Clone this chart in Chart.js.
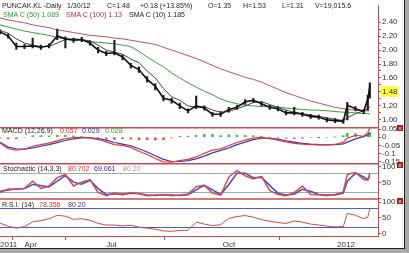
<!DOCTYPE html>
<html>
<head>
<meta charset="utf-8">
<script src="https://cdn.jsdelivr.net/npm/chart.js@4.4.1/dist/chart.umd.min.js"></script>
<style>
  html, body { margin: 0; padding: 0; background: #a9a9a9; }
  #frame { position: absolute; left: 0; top: 0; width: 404px; height: 248px; background: #fff;
           border-right: 1px solid #222; border-bottom: 1px solid #222; overflow: hidden;
           font-family: "Liberation Sans", Arial, sans-serif; font-size: 8px; color: #222; }
  #frame canvas { position: absolute; left: 0; top: 0; }
  .t { position: absolute; white-space: nowrap; line-height: 9px; transform: scaleX(0.88); transform-origin: 0 0; }
  .g { color: #2f9a2f; } .m { color: #a8304f; } .r { color: #e02828; } .b { color: #2a2aa0; } .s { color: #999; }
  .xb { position: absolute; left: 397px; width: 6px; height: 6px; background: #a81c1c; color: #fff;
        font-size: 6px; line-height: 6px; text-align: center; }
</style>
</head>
<body>
<div id="frame">
  <canvas id="chart" width="404" height="248"></canvas>

  <div class="t" style="left:2px;top:1px">PUNCAK.KL -Daily</div>
  <div class="t" style="left:67px;top:1px">1/30/12</div>
  <div class="t" style="left:107px;top:1px">C=1.48</div>
  <div class="t" style="left:140px;top:1px">+0.18 (+13.85%)</div>
  <div class="t" style="left:208px;top:1px">O=1.35</div>
  <div class="t" style="left:243px;top:1px">H=1.53</div>
  <div class="t" style="left:282px;top:1px">L=1.31</div>
  <div class="t" style="left:315px;top:1px">V=19,015.6</div>

  <div class="t g" style="left:3px;top:10px">SMA C (50) 1.089</div>
  <div class="t m" style="left:66px;top:10px">SMA C (100) 1.13</div>
  <div class="t" style="left:129px;top:10px">SMA C (10) 1.185</div>

  <div class="t" style="left:2px;top:126px">MACD (12,26,9)</div>
  <div class="t r" style="left:60px;top:126px">0.057</div>
  <div class="t b" style="left:82px;top:126px">0.029</div>
  <div class="t g" style="left:105px;top:126px">0.028</div>

  <div class="t" style="left:3px;top:164px">Stochastic (14,3,3)</div>
  <div class="t r" style="left:68px;top:164px">80.702</div>
  <div class="t b" style="left:94px;top:164px">69.061</div>
  <div class="t s" style="left:123px;top:164px">80 20</div>

  <div class="t" style="left:2px;top:200px">R.S.I. (14)</div>
  <div class="t r" style="left:39px;top:200px">78.356</div>
  <div class="t b" style="left:68px;top:200px">80 20</div>

  <div class="xb" style="top:125px">x</div>
  <div class="xb" style="top:162px">x</div>
  <div class="xb" style="top:198px">x</div>
</div>

<script>
// trading-day index of each sample
const days = [0,4,8,12,16,20,24,28,32,36,40,44,48,52,56,60,64,68,72,76,80,84,88,92,96,100,104,108,112,116,120,124,128,132,136,140,144,148,152,156,160,164,168,170,174,178,180,181];

const closes = [2.26,2.20,2.05,2.05,2.06,2.04,2.06,2.20,2.16,2.14,2.15,2.10,2.00,1.95,1.96,1.90,1.78,1.72,1.58,1.48,1.31,1.28,1.20,1.13,1.20,1.17,1.08,1.08,1.15,1.18,1.26,1.28,1.23,1.18,1.16,1.10,1.10,1.08,1.05,1.04,1.00,0.99,0.98,1.21,1.16,1.12,1.30,1.48];
const highs  = [2.29,2.23,2.10,2.08,2.17,2.07,2.09,2.30,2.19,2.17,2.18,2.13,2.04,1.98,2.14,1.93,1.81,1.76,1.62,1.52,1.35,1.31,1.24,1.16,1.34,1.20,1.11,1.12,1.18,1.21,1.29,1.31,1.26,1.21,1.19,1.13,1.18,1.11,1.08,1.07,1.03,1.02,1.01,1.25,1.19,1.15,1.35,1.53];
const lows   = [2.23,2.17,2.01,2.02,2.03,2.01,2.03,2.15,2.03,2.11,2.12,2.07,1.96,1.92,1.93,1.86,1.74,1.68,1.54,1.43,1.27,1.24,1.16,1.10,1.16,1.14,1.05,1.05,1.11,1.15,1.22,1.25,1.20,1.15,1.13,1.07,1.07,1.05,1.02,1.01,0.97,0.96,0.95,1.00,1.13,1.09,1.14,1.31];
const sma10  = [2.28,2.24,2.16,2.10,2.07,2.05,2.05,2.10,2.15,2.16,2.15,2.13,2.07,2.00,1.97,1.94,1.87,1.82,1.70,1.60,1.45,1.33,1.28,1.20,1.18,1.19,1.14,1.11,1.12,1.16,1.20,1.25,1.26,1.22,1.18,1.14,1.11,1.09,1.07,1.05,1.03,1.01,0.99,1.03,1.09,1.13,1.16,1.185];
const sma50  = [2.36,2.33,2.30,2.27,2.25,2.23,2.21,2.18,2.16,2.15,2.14,2.12,2.11,2.10,2.09,2.07,2.05,1.98,1.90,1.83,1.76,1.67,1.60,1.53,1.47,1.41,1.36,1.30,1.26,1.23,1.21,1.20,1.19,1.19,1.18,1.17,1.16,1.15,1.14,1.14,1.13,1.12,1.11,1.11,1.10,1.09,1.09,1.089];
const sma100 = [2.46,2.43,2.41,2.39,2.36,2.34,2.32,2.29,2.27,2.25,2.23,2.21,2.20,2.19,2.17,2.16,2.14,2.12,2.10,2.08,2.04,2.00,1.96,1.92,1.88,1.83,1.78,1.73,1.69,1.65,1.61,1.58,1.54,1.49,1.44,1.39,1.35,1.31,1.27,1.24,1.21,1.18,1.16,1.15,1.14,1.13,1.13,1.13];

const macdLine   = [-0.035,-0.07,-0.078,-0.072,-0.055,-0.045,-0.036,-0.022,-0.008,-0.002,0.0,-0.004,-0.014,-0.028,-0.045,-0.05,-0.062,-0.085,-0.105,-0.13,-0.15,-0.152,-0.142,-0.135,-0.12,-0.098,-0.078,-0.07,-0.05,-0.032,-0.018,-0.005,0.0,-0.008,-0.018,-0.028,-0.037,-0.042,-0.045,-0.046,-0.046,-0.044,-0.03,-0.006,0.012,0.006,0.03,0.057];
const macdSignal = [-0.03,-0.06,-0.07,-0.072,-0.065,-0.055,-0.045,-0.033,-0.02,-0.01,-0.004,-0.003,-0.008,-0.018,-0.032,-0.042,-0.052,-0.07,-0.09,-0.113,-0.135,-0.148,-0.148,-0.142,-0.132,-0.115,-0.095,-0.08,-0.065,-0.045,-0.03,-0.015,-0.006,-0.006,-0.012,-0.022,-0.03,-0.037,-0.042,-0.045,-0.046,-0.045,-0.04,-0.03,-0.01,0.005,0.015,0.029];
const macdHist   = [-0.005,-0.01,-0.008,0.0,0.01,0.01,0.009,0.011,0.012,0.008,0.004,-0.001,-0.006,-0.01,-0.013,-0.008,-0.01,-0.015,-0.015,-0.017,-0.015,-0.004,0.006,0.007,0.012,0.017,0.017,0.01,0.015,0.013,0.012,0.01,0.006,-0.002,-0.006,-0.006,-0.007,-0.005,-0.003,-0.001,0.0,0.001,0.01,0.024,0.022,0.001,0.015,0.028];

const stochK = [20,31,30,33,55,33,40,66,76,40,52,60,20,10,19,12,20,16,10,12,14,10,12,15,38,42,18,12,68,88,72,62,70,26,14,10,20,40,14,13,10,14,22,76,82,60,58,80.7];
const stochD = [24,28,31,32,45,42,37,55,72,52,46,58,32,14,15,15,17,17,12,11,13,12,11,13,28,42,28,14,45,80,80,66,67,42,18,12,15,30,24,14,12,12,18,55,80,68,60,69.1];
const rsi    = [33,23,17,22,37,41,47,58,55,45,47,42,32,27,27,24,26,20,17,14,8,7,10,10,36,30,25,28,48,54,57,52,44,39,35,32,40,36,30,27,23,21,22,64,58,47,52,78.4];

const priceTicks = [1.0,1.1,1.2,1.3,1.4,1.5,1.6,1.7,1.8,1.9,2.0,2.1,2.2,2.3,2.4];
const macdTicks = [0.05,0,-0.05,-0.1,-0.15];
const oscTicks = [0,50,100];
const stochLevels = [80,20];
const rsiLevels = [80,20];
const monthTicks = [0,12,52,109,165];
const monthLabels = ['2011','Apr','Jul','Oct','2012'];
const lastClose = 1.48;

const font = { family: '"Liberation Sans", Arial, sans-serif', size: 8 };
const axisRed = '#c84a4a';
const pts = arr => days.map((d, i) => ({ x: d, y: arr[i] }));

function line(data, color, width, axis) {
  return { type: 'line', data: pts(data), borderColor: color, borderWidth: width,
           pointRadius: 0, tension: 0, yAxisID: axis, fill: false };
}

// right-hand axes share one stack; the layout puts the lowest weight on top
function yAxis(stackWeight, weight, min, max, tickValues, label, extra) {
  return {
    type: 'linear', position: 'right', stack: 'panels', stackWeight: stackWeight, weight: weight,
    min: min, max: max,
    afterBuildTicks: s => { s.ticks = tickValues.map(v => ({ value: v })); },
    afterFit: s => { s.width = 26; },
    ticks: Object.assign({ font: font, color: '#333', padding: 1, autoSkip: false, callback: label }, extra || {}),
    grid: { drawOnChartArea: false, color: axisRed, tickLength: 3 },
    border: { color: axisRed }
  };
}

const panelLines = {
  id: 'panelLines',
  beforeDatasetsDraw(chart) {
    const { ctx, chartArea, scales } = chart;
    ctx.save();
    ctx.lineWidth = 1;
    ctx.strokeStyle = '#a9a9a9';
    stochLevels.forEach(v => {
      const y = Math.round(scales.yS.getPixelForValue(v)) + 0.5;
      ctx.beginPath(); ctx.moveTo(chartArea.left, y); ctx.lineTo(chartArea.right, y); ctx.stroke();
    });
    ctx.strokeStyle = '#4c5cc8';
    rsiLevels.forEach(v => {
      const y = Math.round(scales.yR.getPixelForValue(v)) + 0.5;
      ctx.beginPath(); ctx.moveTo(chartArea.left, y); ctx.lineTo(chartArea.right, y); ctx.stroke();
    });
    ctx.restore();
  },
  afterDraw(chart) {
    const { ctx, chartArea, scales } = chart;
    ctx.save();
    ctx.lineWidth = 1.5;
    ctx.strokeStyle = axisRed;
    ['yP', 'yM', 'yS'].forEach(id => {
      const y = scales[id].bottom;
      ctx.beginPath(); ctx.moveTo(chartArea.left, y); ctx.lineTo(chartArea.right, y); ctx.stroke();
    });
    ctx.restore();
  }
};

new Chart(document.getElementById('chart'), {
  type: 'line',
  data: {
    datasets: [
      line(closes, '#111', 1.6, 'yP'),
      { type: 'bar', data: days.map((d, i) => ({ x: d, y: [lows[i], highs[i]] })), yAxisID: 'yP',
        backgroundColor: '#222', barThickness: 1.5, grouped: false },
      line(sma10, '#444', 1, 'yP'),
      line(sma50, '#3c9a3c', 1, 'yP'),
      line(sma100, '#b8506c', 1, 'yP'),
      line(macdLine, '#e03c3c', 1.2, 'yM'),
      line(macdSignal, '#3a3ab4', 1.2, 'yM'),
      { type: 'bar', data: pts(macdHist), yAxisID: 'yM', barThickness: 2, grouped: false,
        backgroundColor: macdHist.map(v => v >= 0 ? '#48c048' : '#e04848') },
      line(stochK, '#d04a5a', 1.5, 'yS'),
      line(stochD, '#4a4ab4', 1.5, 'yS'),
      line(rsi, '#d04848', 1, 'yR')
    ]
  },
  options: {
    responsive: false,
    devicePixelRatio: 1,
    animation: false,
    layout: { padding: 0 },
    plugins: { legend: { display: false }, tooltip: { enabled: false } },
    scales: {
      x: {
        type: 'linear', min: 0, max: 185, offset: false,
        afterBuildTicks: s => { s.ticks = monthTicks.map(v => ({ value: v })); },
        afterFit: s => { s.height = 12; },
        ticks: { font: font, color: '#333', align: 'start', maxRotation: 0, autoSkip: false, padding: 0,
                 callback: (v, i) => monthLabels[i] },
        grid: { drawOnChartArea: false, color: axisRed, tickLength: 4 },
        border: { color: axisRed }
      },
      yP: yAxis(125, 1, 0.888, 2.633, priceTicks,
        v => { const t = Math.round(v * 10); if (t === 14) return lastClose.toFixed(2); return t % 2 === 0 ? v.toFixed(2) : ''; },
        { showLabelBackdrop: c => !!c.tick && Math.round(c.tick.value * 10) === 14,
          backdropColor: '#ffff3c', backdropPadding: { top: 1, bottom: 0, left: 1, right: 1 } }),
      yM: yAxis(37, 2, -0.162, 0.058, macdTicks, v => v === 0 ? '0' : String(v)),
      yS: yAxis(36, 3, 0, 109, oscTicks, v => v === 0 ? '' : String(v)),
      yR: yAxis(38, 4, -8, 110, oscTicks, v => String(v))
    }
  },
  plugins: [panelLines]
});
</script>
</body>
</html>
